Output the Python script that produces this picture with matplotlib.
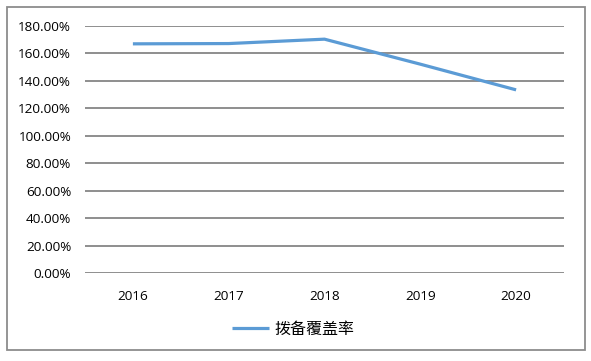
import matplotlib
matplotlib.use("Agg")
import matplotlib.pyplot as plt
from matplotlib.patches import Rectangle
from matplotlib.ticker import FuncFormatter, MultipleLocator

years = ["2016", "2017", "2018", "2019", "2020"]
coverage = [166.8, 167.0, 170.2, 152.0, 133.3]
series_name = "拨备覆盖率"

plt.rcParams['font.family'] = ['Open Sans', 'Noto Sans CJK SC', 'DejaVu Sans']

W, H = 591, 361
fig = plt.figure(figsize=(W / 100, H / 100), dpi=100)
ax = fig.add_axes([85 / W, 1 - 273 / H, (564 - 85) / W, (273 - 25.7) / H])

x = list(range(len(years)))
line, = ax.plot(x, coverage, color="#5B9BD5", lw=2.3, solid_capstyle="butt", label=series_name)

ax.set_xlim(-0.5, len(years) - 0.5)
ax.set_ylim(0, 180)
ax.yaxis.set_major_locator(MultipleLocator(20))
ax.yaxis.set_major_formatter(FuncFormatter(lambda v, p: f"{v:.2f}%"))
ax.set_xticks(x)
ax.set_xticklabels(years)
ax.grid(axis="y", color="#868686", lw=1.3)
ax.set_axisbelow(True)
for s in ax.spines.values():
    s.set_visible(False)
ax.tick_params(axis="both", length=0, labelsize=9.7, colors="black")
ax.tick_params(axis="y", pad=10)
ax.tick_params(axis="x", pad=12)

# outer border
fig.patches.append(Rectangle((7 / W, 1 - 350 / H), (585 - 7) / W, (350 - 7) / H,
                             transform=fig.transFigure, fill=False,
                             edgecolor="#8c8c8c", lw=1.3))

leg = fig.legend(handles=[line], loc="center", bbox_to_anchor=(293 / W, 1 - 329 / H),
                 frameon=False, handlelength=2.3, handletextpad=0.35,
                 prop={'family': ['Noto Sans CJK SC'], 'size': 11.5})

fig.savefig("out.png", dpi=100)
